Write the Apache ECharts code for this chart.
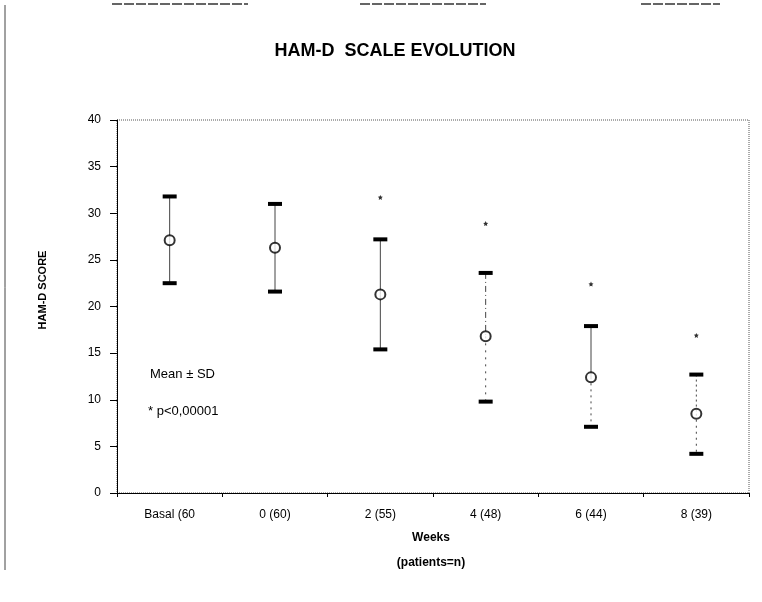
<!DOCTYPE html>
<html>
<head>
<meta charset="utf-8">
<script src="https://cdn.jsdelivr.net/npm/echarts@6/dist/echarts.min.js"></script>
<style>
  html, body { margin: 0; padding: 0; background: #fff; }
  #chart { width: 762px; height: 602px; }
</style>
</head>
<body>
<div id="chart"></div>
<script>
// weeks (patients = n)
const categories = ["Basal (60", "0 (60)", "2 (55)", "4 (48)", "6 (44)", "8 (39)"];
const means = [27.1, 26.3, 21.3, 16.8, 12.4, 8.5];
const upperSD = [31.8, 31.0, 27.2, 23.6, 17.9, 12.7];
const lowerSD = [22.5, 21.6, 15.4, 9.8, 7.1, 4.2];
// significance marks (* p<0,00001), null where none
const starValues = [null, null, 31.7, 28.9, 22.4, 16.9];
const yTicks = [0, 5, 10, 15, 20, 25, 30, 35, 40];

const font = "'Liberation Sans', Arial, sans-serif";

// line styles of the whiskers, above and below the mean
const upperDash = ["solid", "solid", "solid", [6, 3, 1, 3], "solid", [2, 3]];
const lowerDash = ["solid", "solid", "solid", [2, 5], [2, 4], [2, 4]];

const errorData = categories.map(function (c, i) {
  return [i, lowerSD[i], upperSD[i], means[i]];
});

function renderError(params, api) {
  const i = api.value(0);
  const low = api.coord([i, api.value(1)]);
  const high = api.coord([i, api.value(2)]);
  const mid = api.coord([i, api.value(3)]);
  const capW = 14, capH = 4;
  return {
    type: "group",
    children: [
      {
        type: "line",
        shape: { x1: high[0], y1: high[1], x2: mid[0], y2: mid[1] },
        style: { stroke: "#444", lineWidth: 1, lineDash: upperDash[i] }
      },
      {
        type: "line",
        shape: { x1: mid[0], y1: mid[1], x2: low[0], y2: low[1] },
        style: { stroke: "#444", lineWidth: 1, lineDash: lowerDash[i] }
      },
      {
        type: "rect",
        shape: { x: high[0] - capW / 2, y: high[1] - capH / 2, width: capW, height: capH },
        style: { fill: "#000" }
      },
      {
        type: "rect",
        shape: { x: low[0] - capW / 2, y: low[1] - capH / 2, width: capW, height: capH },
        style: { fill: "#000" }
      }
    ]
  };
}

const chart = echarts.init(document.getElementById("chart"), null, { renderer: "canvas" });

chart.setOption({
  animation: false,
  backgroundColor: "#fff",
  textStyle: { fontFamily: font, color: "#000" },
  title: {
    text: "HAM-D  SCALE EVOLUTION",
    left: 390,
    top: 37,
    textAlign: "center",
    textStyle: { fontFamily: font, fontSize: 18, fontWeight: "bold", color: "#000" }
  },
  grid: {
    left: 117,
    right: 13,
    top: 120,
    bottom: 109,
    show: true,
    borderColor: "#555",
    borderWidth: 1,
    borderType: "dotted"
  },
  xAxis: {
    type: "category",
    data: categories,
    boundaryGap: true,
    axisLine: { lineStyle: { color: "#000", width: 1 } },
    axisTick: { show: true, length: 4, lineStyle: { color: "#000" } },
    axisLabel: { fontFamily: font, fontSize: 12, color: "#000", margin: 16 },
    splitLine: { show: false }
  },
  yAxis: {
    type: "value",
    min: yTicks[0],
    max: yTicks[yTicks.length - 1],
    interval: yTicks[1] - yTicks[0],
    axisLine: { show: true, lineStyle: { color: "#000", width: 1 } },
    axisTick: { show: true, length: 7, lineStyle: { color: "#000" } },
    axisLabel: { fontFamily: font, fontSize: 12, color: "#000", margin: 16 },
    splitLine: { show: false }
  },
  series: [
    {
      type: "custom",
      name: "SD",
      renderItem: renderError,
      encode: { x: 0, y: [1, 2] },
      data: errorData,
      z: 2
    },
    {
      type: "scatter",
      name: "Mean",
      data: means,
      symbol: "circle",
      symbolSize: 10,
      itemStyle: { color: "#fff", borderColor: "#000", borderWidth: 2 },
      z: 3
    },
    {
      type: "scatter",
      name: "p",
      data: starValues,
      symbol: "path://M0,-10 L2.9,-4 L9.5,-3.1 L4.7,1.5 L5.9,8.1 L0,5 L-5.9,8.1 L-4.7,1.5 L-9.5,-3.1 L-2.9,-4 Z",
      symbolSize: 5,
      itemStyle: { color: "#000" },
      z: 3
    }
  ],
  graphic: [
    {
      type: "text",
      x: 43,
      y: 290,
      rotation: Math.PI / 2,
      style: {
        text: "HAM-D SCORE",
        font: "bold 11px " + font,
        fill: "#000",
        align: "center",
        verticalAlign: "middle"
      }
    },
    {
      type: "text",
      x: 150,
      y: 374,
      style: { text: "Mean \u00b1 SD", font: "13px " + font, fill: "#000", verticalAlign: "middle" }
    },
    {
      type: "text",
      x: 148,
      y: 411,
      style: { text: "* p<0,00001", font: "13px " + font, fill: "#000", verticalAlign: "middle" }
    },
    {
      type: "text",
      x: 431,
      y: 538,
      style: { text: "Weeks", font: "bold 12px " + font, fill: "#000", align: "center", verticalAlign: "middle" }
    },
    {
      type: "text",
      x: 431,
      y: 563,
      style: { text: "(patients=n)", font: "bold 12px " + font, fill: "#000", align: "center", verticalAlign: "middle" }
    },
    {
      type: "line",
      shape: { x1: 5, y1: 5, x2: 5, y2: 570 },
      style: { stroke: "#444", lineWidth: 1 }
    },
    {
      type: "line",
      shape: { x1: 112, y1: 4, x2: 248, y2: 4 },
      style: { stroke: "#333", lineWidth: 1.5, lineDash: [10, 2] }
    },
    {
      type: "line",
      shape: { x1: 360, y1: 4, x2: 486, y2: 4 },
      style: { stroke: "#333", lineWidth: 1.5, lineDash: [10, 2] }
    },
    {
      type: "line",
      shape: { x1: 641, y1: 4, x2: 720, y2: 4 },
      style: { stroke: "#333", lineWidth: 1.5, lineDash: [10, 2] }
    }
  ]
});
</script>
</body>
</html>
